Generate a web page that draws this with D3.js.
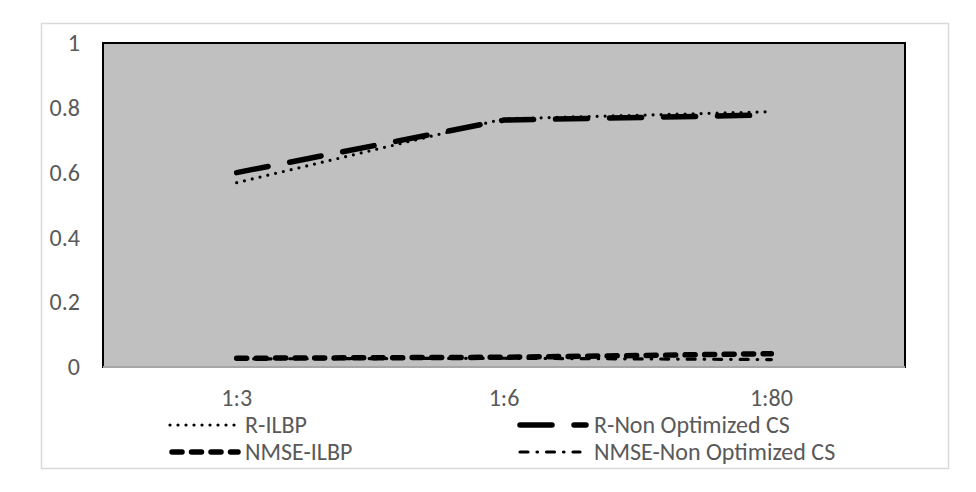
<!DOCTYPE html>
<html>
<head>
<meta charset="utf-8">
<script src="https://cdn.jsdelivr.net/npm/d3@7"></script>
<style>
  html, body { margin: 0; padding: 0; background: #ffffff; }
  svg { display: block; }
  text { font-family: Carlito, "Liberation Sans Narrow", "Open Sans", sans-serif; fill: #595959; }
</style>
</head>
<body>
<svg id="chart" width="976" height="492"></svg>
<script>
const categories = ["1:3", "1:6", "1:80"];
const yTicks = [0, 0.2, 0.4, 0.6, 0.8, 1];
const rIlbp = [0.569, 0.766, 0.788];
const rNonOpt = [0.600, 0.762, 0.778];
const nmseIlbp = [0.027, 0.030, 0.041];
const nmseNonOpt = [0.025, 0.027, 0.023];
const seriesNames = ["R-ILBP", "R-Non Optimized CS", "NMSE-ILBP", "NMSE-Non Optimized CS"];

const styles = [
  { width: 3.2, dash: "0,8", cap: "round" },
  { width: 5.5, dash: "32,22", cap: "round" },
  { width: 5.5, dash: "10,9.5", cap: "round" },
  { width: 3.2, dash: "8,9,0.5,9", cap: "round" }
];
const seriesData = [rIlbp, rNonOpt, nmseIlbp, nmseNonOpt];

const svg = d3.select("#chart");
const plot = { left: 103, right: 905, top: 43, bottom: 367 };
const FONT = 'Carlito, "Liberation Sans Narrow", "Open Sans", sans-serif';

// outer border
svg.append("rect")
  .attr("x", 41.5).attr("y", 23.5)
  .attr("width", 907).attr("height", 445)
  .attr("fill", "#ffffff").attr("stroke", "#d9d9d9").attr("stroke-width", 1.5);

const x = d3.scaleBand().domain(categories).range([plot.left, plot.right]).padding(0);
const y = d3.scaleLinear().domain([0, 1]).range([plot.bottom, plot.top]);
const cx = c => x(c) + x.bandwidth() / 2;

// plot area
svg.append("rect")
  .attr("x", plot.left).attr("y", plot.top)
  .attr("width", plot.right - plot.left).attr("height", plot.bottom - plot.top)
  .attr("fill", "#c0c0c0").attr("stroke", "#000000").attr("stroke-width", 2);
svg.append("line")
  .attr("x1", plot.left).attr("x2", plot.right)
  .attr("y1", plot.bottom).attr("y2", plot.bottom)
  .attr("stroke", "#a6a6a6").attr("stroke-width", 2);

// y axis
const yAxis = d3.axisLeft(y).tickValues(yTicks).tickSize(0).tickPadding(0)
  .tickFormat(d => d3.format("")(+d.toFixed(1)));
const gy = svg.append("g").attr("transform", `translate(80,0)`).call(yAxis);
gy.select(".domain").remove();
gy.selectAll("text").attr("font-size", 24).attr("fill", "#595959").attr("font-family", FONT);

// x axis labels
const xAxis = d3.axisBottom(x).tickSize(0).tickPadding(0);
const gx = svg.append("g").attr("transform", `translate(0,389)`).call(xAxis);
gx.select(".domain").remove();
gx.selectAll("text").attr("font-size", 24).attr("fill", "#595959").attr("font-family", FONT);

// lines
const line = d3.line().x((d, i) => cx(categories[i])).y(d => y(d));
seriesData.forEach((arr, k) => {
  svg.append("path")
    .datum(arr)
    .attr("d", line)
    .attr("fill", "none")
    .attr("stroke", "#000000")
    .attr("stroke-width", styles[k].width)
    .attr("stroke-dasharray", styles[k].dash)
    .attr("stroke-linecap", styles[k].cap);
});

// legend
const legendPos = [
  { x1: 170, x2: 236, tx: 245, ty: 425 },
  { x1: 520, x2: 586, tx: 594, ty: 425 },
  { x1: 172, x2: 238, tx: 245, ty: 452 },
  { x1: 520, x2: 580, tx: 594, ty: 452 }
];
seriesNames.forEach((name, k) => {
  const p = legendPos[k];
  svg.append("line")
    .attr("x1", p.x1).attr("x2", p.x2).attr("y1", p.ty).attr("y2", p.ty)
    .attr("stroke", "#000000")
    .attr("stroke-width", styles[k].width)
    .attr("stroke-dasharray", styles[k].dash)
    .attr("stroke-linecap", styles[k].cap);
  svg.append("text")
    .attr("x", p.tx).attr("y", p.ty)
    .attr("dy", "0.35em")
    .attr("font-size", 24)
    .attr("font-family", FONT)
    .text(name);
});
</script>
</body>
</html>
